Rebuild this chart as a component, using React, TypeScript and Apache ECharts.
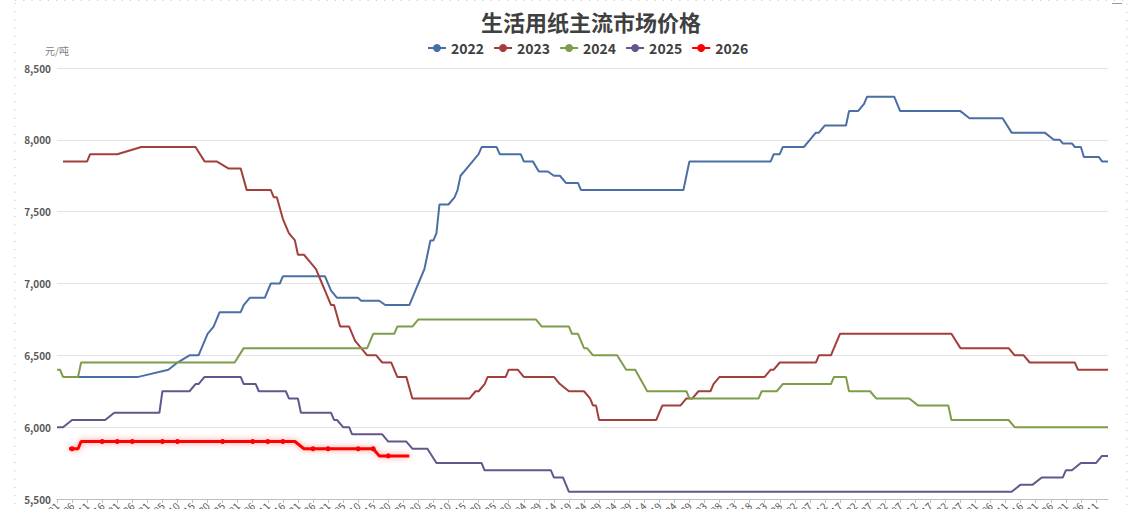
import { useEffect, useRef } from "react";
import * as echarts from "echarts";

// ---- text ----
const chartTitle = "生活用纸主流市场价格";
const unitName = "元/吨";
const years = ["2022", "2023", "2024", "2025", "2026"];
const yearColors = ["#4a6fa5", "#a23f3b", "#7e9d4a", "#65558f", "#ff0000"];

// ---- value axis ----
const yMin = 5500;
const yMax = 8500;
const yStep = 500;

// ---- day-of-year categories (MM-DD) ----
const DAY_COUNT = 350;
const dayLabels: string[] = [];
for (let i = 0; i < DAY_COUNT; i++) {
  const d = new Date(Date.UTC(2024, 0, 1 + i));
  const mm = String(d.getUTCMonth() + 1).padStart(2, "0");
  const dd = String(d.getUTCDate()).padStart(2, "0");
  dayLabels.push(`${mm}-${dd}`);
}

// ---- price turning points: [day index, price] ----
const price2022: [number, number][] = [
  [2, 6350], [27, 6350], [37, 6400], [40, 6450], [44, 6500], [47, 6500], [50, 6650], [52, 6700],
  [54, 6800], [61, 6800], [62, 6850], [64, 6900], [69, 6900], [71, 7000], [74, 7000], [75, 7050],
  [89, 7050], [91, 6950], [93, 6900], [100, 6900], [101, 6880], [107, 6880], [109, 6850], [117, 6850],
  [119, 6950], [120, 7000], [122, 7100], [123, 7200], [124, 7300], [125, 7300], [126, 7350], [127, 7550],
  [130, 7550], [132, 7600], [133, 7650], [134, 7750], [136, 7800], [138, 7850], [140, 7900], [141, 7950],
  [146, 7950], [147, 7900], [154, 7900], [155, 7850], [158, 7850], [160, 7780], [163, 7780], [165, 7750],
  [167, 7750], [169, 7700], [173, 7700], [174, 7650], [208, 7650], [209, 7750], [210, 7850], [237, 7850],
  [238, 7900], [240, 7900], [241, 7950], [248, 7950], [250, 8000], [252, 8050], [253, 8050], [255, 8100],
  [262, 8100], [263, 8200], [266, 8200], [268, 8250], [269, 8300], [278, 8300], [280, 8200], [300, 8200],
  [303, 8150], [314, 8150], [317, 8050], [328, 8050], [331, 8000], [333, 8000], [334, 7975], [337, 7975],
  [338, 7950], [340, 7950], [341, 7880], [346, 7880], [347, 7850], [349, 7850],
];

const price2023: [number, number][] = [
  [2, 7850], [10, 7850], [11, 7900], [20, 7900], [28, 7950], [46, 7950], [49, 7850], [53, 7850],
  [57, 7800], [61, 7800], [63, 7650], [71, 7650], [72, 7600], [73, 7600], [75, 7450], [76, 7400],
  [77, 7350], [79, 7300], [80, 7200], [82, 7200], [84, 7150], [86, 7100], [88, 7000], [89, 6950],
  [91, 6850], [92, 6850], [94, 6700], [97, 6700], [99, 6600], [101, 6550], [103, 6500], [106, 6500],
  [108, 6450], [111, 6450], [113, 6350], [116, 6350], [118, 6200], [137, 6200], [139, 6250], [140, 6250],
  [142, 6300], [143, 6350], [149, 6350], [150, 6400], [153, 6400], [155, 6350], [165, 6350], [167, 6300],
  [170, 6250], [175, 6250], [177, 6200], [178, 6150], [179, 6150], [180, 6050], [199, 6050], [201, 6150],
  [207, 6150], [209, 6200], [211, 6200], [213, 6250], [217, 6250], [218, 6300], [220, 6350], [235, 6350],
  [237, 6400], [238, 6400], [240, 6450], [252, 6450], [253, 6500], [257, 6500], [258, 6550], [260, 6650],
  [297, 6650], [300, 6550], [316, 6550], [318, 6500], [321, 6500], [323, 6450], [338, 6450], [339, 6400],
  [349, 6400],
];

const price2024: [number, number][] = [
  [0, 6400], [1, 6400], [2, 6350], [7, 6350], [8, 6450], [59, 6450], [62, 6550], [103, 6550],
  [105, 6650], [112, 6650], [113, 6700], [118, 6700], [120, 6750], [159, 6750], [161, 6700], [170, 6700],
  [171, 6650], [173, 6650], [175, 6550], [176, 6550], [178, 6500], [186, 6500], [189, 6400], [192, 6400],
  [196, 6250], [209, 6250], [210, 6200], [233, 6200], [234, 6250], [239, 6250], [241, 6300], [257, 6300],
  [258, 6350], [262, 6350], [263, 6250], [270, 6250], [272, 6200], [283, 6200], [286, 6150], [296, 6150],
  [297, 6050], [316, 6050], [318, 6000], [349, 6000],
];

const price2025: [number, number][] = [
  [0, 6000], [2, 6000], [5, 6050], [16, 6050], [19, 6100], [34, 6100], [35, 6250], [44, 6250],
  [46, 6300], [47, 6300], [49, 6350], [61, 6350], [62, 6300], [66, 6300], [67, 6250], [76, 6250],
  [77, 6200], [80, 6200], [81, 6100], [91, 6100], [92, 6050], [93, 6050], [95, 6000], [97, 6000],
  [98, 5950], [108, 5950], [110, 5900], [116, 5900], [118, 5850], [123, 5850], [126, 5750], [141, 5750],
  [142, 5700], [164, 5700], [165, 5650], [168, 5650], [170, 5550], [317, 5550], [320, 5600], [324, 5600],
  [327, 5650], [334, 5650], [335, 5700], [337, 5700], [340, 5750], [345, 5750], [347, 5800], [349, 5800],
];

// 2026 daily quotes, null on non-trading days
const price2026: (number | null)[] = [
  null, null, null, null, 5850, 5850, 5850, 5850, 5900, null,
  null, 5900, 5900, 5900, 5900, 5900, null, null, 5900, 5900,
  5900, 5900, 5900, null, null, 5900, 5900, 5900, 5900, 5900,
  null, null, 5900, 5900, 5900, 5900, 5900, null, null, 5900,
  5900, 5900, 5900, 5900, 5900, null, null, null, null, null,
  null, null, null, null, 5900, 5900, 5900, 5900, 5900, null,
  null, 5900, 5900, 5900, 5900, 5900, null, null, 5900, 5900,
  5900, 5900, 5900, null, null, 5900, 5900, 5900, 5900, 5900,
  null, null, 5850, 5850, 5850, 5850, 5850, null, null, 5850,
  5850, 5850, 5850, 5850, null, null, null, 5850, 5850, 5850,
  5850, null, null, 5850, 5850, 5850, null, 5800, null, null,
  5800, 5800, 5800, 5800, 5800, null, null, 5800,
];

const history = [price2022, price2023, price2024, price2025];

export default function App() {
  const ref = useRef<HTMLDivElement>(null);

  useEffect(() => {
    if (!ref.current) return;
    const chart = echarts.init(ref.current, undefined, { renderer: "svg" });
    const font = "'Noto Sans CJK SC', 'Noto Sans', sans-serif";

    const historySeries = history.map((data, i) => ({
      name: years[i],
      type: "line",
      data,
      symbol: "circle",
      showSymbol: false,
      symbolSize: 6,
      itemStyle: { color: yearColors[i] },
      lineStyle: { color: yearColors[i], width: 2 },
      z: 2,
    }));

    chart.setOption({
      animation: false,
      backgroundColor: "#ffffff",
      textStyle: { fontFamily: font },
      color: yearColors,
      title: {
        text: chartTitle,
        left: 476,
        top: 5,
        textStyle: { fontSize: 22, fontWeight: "bold", color: "#404040", fontFamily: font },
      },
      legend: {
        data: years,
        left: 422,
        top: 36,
        itemWidth: 18,
        itemHeight: 10,
        itemGap: 9,
        textStyle: { fontSize: 14, fontWeight: "bold", color: "#404040", fontFamily: font },
      },
      grid: {
        left: 57,
        right: 21,
        top: 68,
        bottom: 10,
        containLabel: false,
        outerBoundsMode: "none",
      },
      xAxis: {
        type: "category",
        data: dayLabels,
        boundaryGap: false,
        axisLine: { lineStyle: { color: "#bfbfbf", width: 1 } },
        axisTick: { interval: 4, length: 4, lineStyle: { color: "#bfbfbf" } },
        axisLabel: {
          interval: 4,
          rotate: 45,
          margin: 5,
          fontSize: 10,
          color: "#595959",
          fontFamily: font,
        },
        splitLine: { show: false },
      },
      yAxis: {
        type: "value",
        min: yMin,
        max: yMax,
        interval: yStep,
        name: unitName,
        nameLocation: "end",
        nameGap: 13,
        nameTextStyle: { fontSize: 10, color: "#7f7f7f", fontFamily: font },
        axisLine: { show: false },
        axisTick: { show: false },
        axisLabel: {
          margin: 6,
          fontSize: 10,
          fontWeight: "bold",
          color: "#595959",
          fontFamily: font,
          formatter: (v: number) => v.toLocaleString("en-US"),
        },
        splitLine: { lineStyle: { color: "#e3e3e3", width: 1 } },
      },
      series: [
        ...historySeries,
        {
          name: years[4],
          type: "line",
          data: price2026,
          connectNulls: true,
          symbol: "circle",
          symbolSize: 5,
          itemStyle: { color: yearColors[4] },
          lineStyle: {
            color: yearColors[4],
            width: 3,
            shadowColor: "rgba(255,0,0,0.45)",
            shadowBlur: 6,
          },
          z: 5,
        },
      ],
      graphic: [
        {
          type: "rect",
          silent: true,
          shape: { x: 15, y: 0.5, width: 1112, height: 620 },
          style: { fill: "none", stroke: "#cfcfcf", lineWidth: 1.2, lineDash: [1.2, 7] },
        },
        {
          type: "line",
          silent: true,
          shape: { x1: 1112, y1: 3.5, x2: 1122, y2: 3.5 },
          style: { stroke: "#9a9a9a", lineWidth: 1 },
        },
      ],
    });

    return () => chart.dispose();
  }, []);

  return (
    <div
      ref={ref}
      style={{ position: "absolute", left: 0, top: 0, width: 1129, height: 509 }}
    />
  );
}
